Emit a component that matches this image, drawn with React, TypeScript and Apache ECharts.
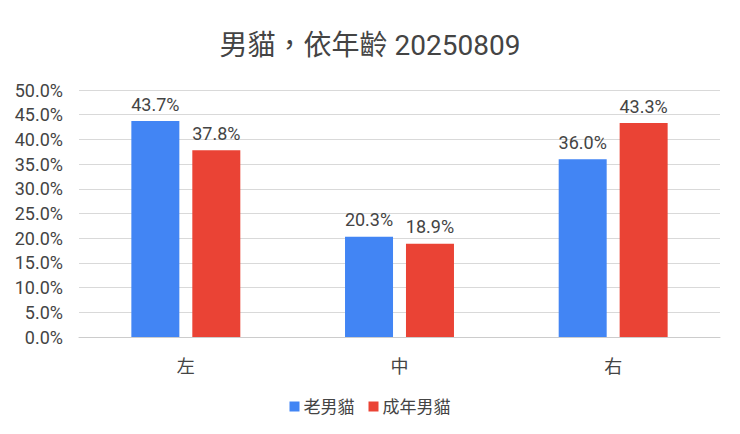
import { useEffect, useRef } from 'react'
import * as echarts from 'echarts'

const title = '男貓，依年齡 20250809'
const categories = ['左', '中', '右']
const seriesNames = ['老男貓', '成年男貓']
const oldMale = [43.7, 20.3, 36.0]
const adultMale = [37.8, 18.9, 43.3]
const colors = ['#4285F4', '#EA4335']

const FONT = "Roboto, 'Noto Sans CJK TC', sans-serif"

export default function App() {
  const chartRef = useRef<HTMLDivElement>(null)

  useEffect(() => {
    if (!chartRef.current) return
    const chart = echarts.init(chartRef.current, null, { renderer: 'svg' })

    const labelStyle = {
      show: true,
      position: 'top' as const,
      distance: 8,
      color: '#444',
      fontSize: 18,
      fontFamily: FONT,
      formatter: (p: any) => `${Number(p.value).toFixed(1)}%`,
    }

    chart.setOption({
      animation: false,
      backgroundColor: '#fff',
      title: {
        text: title,
        left: 'center',
        top: 18,
        textStyle: { color: '#444', fontSize: 28, fontWeight: 'normal', fontFamily: FONT },
      },
      // the div sits inside the body's 8px margin
      grid: { left: 71, right: 12, top: 82, bottom: 89 },
      legend: {
        data: seriesNames,
        bottom: 6,
        left: 'center',
        icon: 'rect',
        itemWidth: 10,
        itemHeight: 10,
        itemGap: 14,
        textStyle: { color: '#444', fontSize: 17, fontFamily: FONT, padding: [0, 0, 0, -1] },
      },
      xAxis: {
        type: 'category',
        data: categories,
        axisLine: { lineStyle: { color: '#ccc' } },
        axisTick: { show: false },
        axisLabel: { color: '#444', fontSize: 18, fontFamily: FONT, margin: 20 },
      },
      yAxis: {
        type: 'value',
        min: 0,
        max: 50,
        interval: 5,
        axisLine: { show: false },
        axisTick: { show: false },
        axisLabel: {
          color: '#444',
          fontSize: 18,
          fontFamily: FONT,
          margin: 16,
          formatter: (v: number) => `${v.toFixed(1)}%`,
        },
        splitLine: { lineStyle: { color: '#d9d9d9', width: 1 } },
      },
      series: [
        {
          name: seriesNames[0],
          type: 'bar',
          data: oldMale,
          barWidth: 48,
          barGap: '27%',
          itemStyle: { color: colors[0] },
          label: labelStyle,
        },
        {
          name: seriesNames[1],
          type: 'bar',
          data: adultMale,
          barWidth: 48,
          itemStyle: { color: colors[1] },
          label: labelStyle,
        },
      ],
    })

    return () => chart.dispose()
  }, [])

  return <div ref={chartRef} style={{ width: 724, height: 418 }} />
}
